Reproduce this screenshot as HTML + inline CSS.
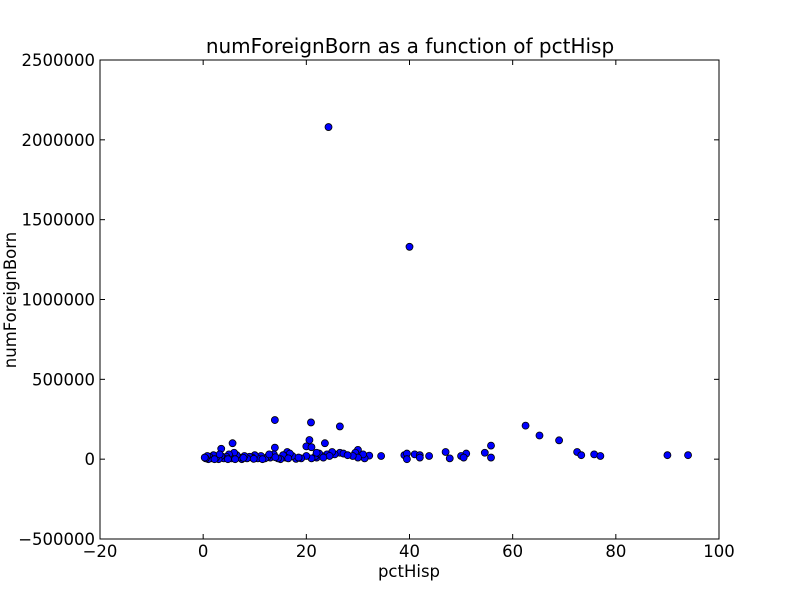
<!DOCTYPE html>
<html><head><meta charset="utf-8"><style>
body{margin:0;background:#fff}
svg{display:block;font-family:"DejaVu Sans","Liberation Sans",sans-serif}
</style></head><body>
<svg id="chart" width="800" height="600">
<rect x="0" y="0" width="800" height="600" fill="#fff"/>
<text x="410" y="53" font-size="20" text-anchor="middle">numForeignBorn as a function of pctHisp</text>
<text x="409" y="577" font-size="16.5" text-anchor="middle">pctHisp</text>
<text transform="translate(10,300) rotate(-90)" font-size="16.5" text-anchor="middle" dy="0.35em">numForeignBorn</text>
<g id="pts"></g>
<g id="ticks"></g>
<rect x="100" y="60" width="619" height="479" fill="none" stroke="#000" stroke-width="1"/>
</svg>
<script>
const xTicks=[-20,0,20,40,60,80,100];
const yTicks=[-500000,0,500000,1000000,1500000,2000000,2500000];
const pctHisp=[24.3,40,13.9,20.9,26.5,62.5,65.2,69,5.7,23.6,20.6,20,21,3.5,13.9,16.3,30,55.8,72.5,73.3,75.8,77,90,94,47,54.6,51,50,50.5,47.8,55.8,41,42,42,39,39.5,39.5,43.8,34.5,32.2,31.3,31,29.5,30,29,26.5,27.2,25.5,25,24,23,22,21.8,21,20,19,18,17.3,16.8,16,15.5,15,14.5,13.7,13,12.5,12,11.2,10.6,10,9.5,9,8.5,8,7.5,7,6.5,6,5.5,5,4.5,4,3.5,3,2.5,2,1.5,1.2,1,0.8,0.5,0.3,2.2,3.2,4.8,6.2,7.8,9.8,11.5,12.8,14,16.5,18.5,22.5,24.5,28,22,23.3];
const numForeignBorn=[2080000,1330000,245000,230000,205000,210000,148000,118000,100000,100000,120000,80000,75000,65000,72000,45000,58000,85000,45000,25000,30000,20000,25000,25000,45000,40000,35000,20000,10000,5000,10000,30000,25000,10000,25000,35000,0,20000,20000,22000,5000,30000,40000,10000,20000,40000,35000,30000,45000,30000,20000,10000,20000,5000,20000,5000,2000,20000,35000,10000,25000,0,5000,30000,10000,15000,5000,20000,5000,25000,10000,15000,5000,20000,0,10000,25000,40000,5000,30000,15000,5000,20000,0,10000,25000,5000,15000,0,20000,5000,10000,0,30000,0,0,8000,2000,0,30000,12000,5000,10000,35000,20000,25000,40000,10000];
const NS='http://www.w3.org/2000/svg';
const X0=100,X1=719,Y0=539,Y1=60;
function xs(v){return X0+(v+20)/120*(X1-X0);}
function ys(v){return Y0-(v+500000)/3000000*(Y0-Y1);}
const pts=document.getElementById('pts');
for(let i=0;i<pctHisp.length;i++){
  const c=document.createElementNS(NS,'circle');
  c.setAttribute('cx',xs(pctHisp[i]));c.setAttribute('cy',ys(numForeignBorn[i]));
  c.setAttribute('r',3.5);c.setAttribute('fill','#0000ff');c.setAttribute('stroke','#000');c.setAttribute('stroke-width','0.8');
  
  
  pts.appendChild(c);
}
const tk=document.getElementById('ticks');
function line(x1,y1,x2,y2){const l=document.createElementNS(NS,'line');l.setAttribute('x1',x1);l.setAttribute('y1',y1);l.setAttribute('x2',x2);l.setAttribute('y2',y2);l.setAttribute('stroke','#000');tk.appendChild(l);}
function txt(x,y,s,a){const t=document.createElementNS(NS,'text');t.setAttribute('x',x);t.setAttribute('y',y);t.setAttribute('font-size','16.5');t.setAttribute('text-anchor',a);t.textContent=s;
  
  
  tk.appendChild(t);}
xTicks.forEach(v=>{const x=xs(v);line(x,Y0,x,Y0-5);line(x,Y1,x,Y1+5);txt(x,Y0+18,String(v).replace('-','\u2212'),'middle');});
yTicks.forEach(v=>{const y=ys(v);line(X0,y,X0+5,y);line(X1,y,X1-5,y);txt(X0-5,y+6,String(v).replace('-','\u2212'),'end');});
</script>
</body></html>
